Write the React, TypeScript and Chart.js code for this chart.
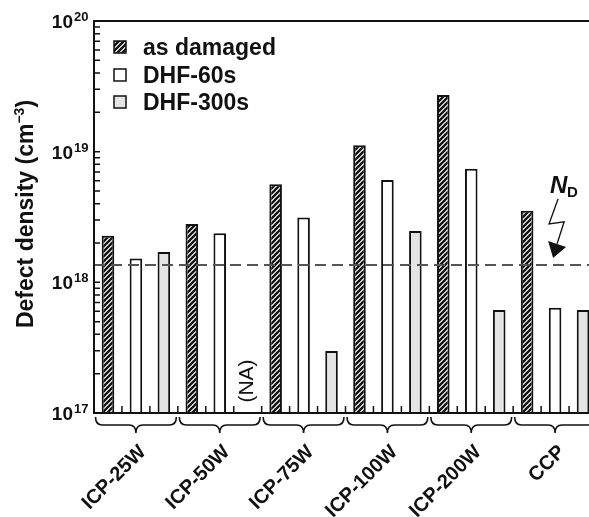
import React, { useEffect, useRef } from "react";
import { Chart, registerables } from "chart.js";

Chart.register(...registerables);

// ---- data ----
const categories = ["ICP-25W", "ICP-50W", "ICP-75W", "ICP-100W", "ICP-200W", "CCP"];
const seriesNames = ["as damaged", "DHF-60s", "DHF-300s"];
const asDamaged = [2.27e18, 2.79e18, 5.62e18, 1.12e19, 2.72e19, 3.53e18];
const dhf60s = [1.52e18, 2.37e18, 3.14e18, 6.06e18, 7.4e18, 6.4e17];
const dhf300s: (number | null)[] = [1.71e18, null, 2.98e17, 2.47e18, 6.14e17, 6.14e17];
const ndLevel = 1.36e18;
const yMin = 1e17;
const yMax = 1e20;
const decadeExponents = [17, 18, 19, 20];
const naIndex = 1;
const naText = "(NA)";
const yTitleMain = "Defect density (cm";
const yTitleSup = "\u22123";
const yTitleEnd = ")";

const FONT = "'Liberation Sans', Arial, Helvetica, sans-serif";

function makeHatch(): CanvasPattern | string {
  const c = document.createElement("canvas");
  const s = 5;
  c.width = s;
  c.height = s;
  const g = c.getContext("2d");
  if (!g) return "#888";
  g.fillStyle = "#ffffff";
  g.fillRect(0, 0, s, s);
  g.strokeStyle = "#111111";
  g.lineWidth = 2.3;
  g.beginPath();
  for (const k of [-s, 0, s]) {
    g.moveTo(k - 1, s + 1);
    g.lineTo(k + s + 1, -1);
  }
  g.stroke();
  const p = g.createPattern(c, "repeat");
  return p || "#888";
}

export default function App() {
  const ref = useRef<HTMLCanvasElement | null>(null);

  useEffect(() => {
    const canvas = ref.current;
    if (!canvas) return;
    const hatch = makeHatch();
    const fills = [hatch, "#ffffff", "#e4e4e4"];

    const overlay = {
      id: "overlay",
      afterDatasetsDraw(chart: any) {
        const { ctx, chartArea: a, scales } = chart;
        const x = scales.x;
        const y = scales.y;
        const slot = (x.getPixelForValue(1) - x.getPixelForValue(0)) / 3;
        ctx.save();

        // ND dashed line
        const yn = y.getPixelForValue(ndLevel);
        ctx.strokeStyle = "#555";
        ctx.lineWidth = 2;
        ctx.setLineDash([11, 6]);
        ctx.beginPath();
        ctx.moveTo(a.left, yn);
        ctx.lineTo(a.right, yn);
        ctx.stroke();
        ctx.setLineDash([]);

        // axes frame
        ctx.strokeStyle = "#111";
        ctx.lineWidth = 2;
        ctx.beginPath();
        ctx.moveTo(a.right, a.top);
        ctx.lineTo(a.left, a.top);
        ctx.lineTo(a.left, a.bottom);
        ctx.lineTo(a.right, a.bottom);
        ctx.stroke();

        // y minor/major ticks (inward)
        ctx.lineWidth = 1.5;
        ctx.beginPath();
        for (let e = decadeExponents[0]; e < decadeExponents[decadeExponents.length - 1]; e++) {
          for (let m = 1; m <= 9; m++) {
            const v = m * Math.pow(10, e);
            const yy = y.getPixelForValue(v);
            ctx.moveTo(a.left, yy);
            ctx.lineTo(a.left + 6, yy);
          }
        }
        ctx.stroke();

        // x ticks (inward) at every slot boundary
        ctx.beginPath();
        for (let i = 0; i < categories.length; i++) {
          const c = x.getPixelForValue(i);
          for (let j = 0; j <= 3; j++) {
            const xx = c - 1.5 * slot + j * slot;
            ctx.moveTo(xx, a.bottom);
            ctx.lineTo(xx, a.bottom - 7);
          }
        }
        ctx.stroke();

        // y tick labels 10^n
        ctx.fillStyle = "#111";
        for (const e of decadeExponents) {
          const yy = y.getPixelForValue(Math.pow(10, e));
          ctx.font = `bold 19px ${FONT}`;
          ctx.textAlign = "right";
          ctx.textBaseline = "alphabetic";
          ctx.fillText("10", 73, yy + 7);
          ctx.font = `bold 13px ${FONT}`;
          ctx.textAlign = "left";
          ctx.fillText(String(e), 74, yy);
        }

        // y title
        ctx.save();
        ctx.translate(33, 214);
        ctx.rotate(-Math.PI / 2);
        ctx.font = `bold 23px ${FONT}`;
        const wMain = ctx.measureText(yTitleMain).width;
        const wEnd = ctx.measureText(yTitleEnd).width;
        ctx.font = `bold 14px ${FONT}`;
        const wSup = ctx.measureText(yTitleSup).width;
        const total = wMain + wSup + wEnd;
        let x0 = -total / 2;
        ctx.textAlign = "left";
        ctx.textBaseline = "alphabetic";
        ctx.font = `bold 23px ${FONT}`;
        ctx.fillText(yTitleMain, x0, 0);
        x0 += wMain;
        ctx.font = `bold 14px ${FONT}`;
        ctx.fillText(yTitleSup, x0, -9);
        x0 += wSup;
        ctx.font = `bold 23px ${FONT}`;
        ctx.fillText(yTitleEnd, x0, 0);
        ctx.restore();

        // braces and category labels
        ctx.strokeStyle = "#111";
        ctx.lineWidth = 1.6;
        for (let i = 0; i < categories.length; i++) {
          const c = x.getPixelForValue(i);
          const x0b = c - 1.5 * slot + 1.5;
          const x1b = c + 1.5 * slot - 1.5;
          const yt = a.bottom + 4;
          const ym = a.bottom + 12;
          const yb = a.bottom + 20;
          ctx.beginPath();
          ctx.moveTo(x0b, yt);
          ctx.quadraticCurveTo(x0b, ym, x0b + 7, ym);
          ctx.lineTo(c - 7, ym);
          ctx.quadraticCurveTo(c, ym, c, yb);
          ctx.quadraticCurveTo(c, ym, c + 7, ym);
          ctx.lineTo(x1b - 7, ym);
          ctx.quadraticCurveTo(x1b, ym, x1b, yt);
          ctx.stroke();

          ctx.save();
          ctx.translate(c + 7, a.bottom + 36);
          ctx.rotate(-Math.PI / 4);
          ctx.font = `bold 20px ${FONT}`;
          ctx.textAlign = "right";
          ctx.textBaseline = "middle";
          ctx.fillText(categories[i], 0, 0);
          ctx.restore();
        }

        // (NA) label
        ctx.save();
        const naX = x.getPixelForValue(naIndex) + slot;
        ctx.translate(naX, a.bottom - 32);
        ctx.rotate(-Math.PI / 2);
        ctx.font = `21px ${FONT}`;
        ctx.textAlign = "center";
        ctx.textBaseline = "middle";
        ctx.fillText(naText, 0, 0);
        ctx.restore();

        // legend
        const baselines = [55, 83, 110];
        for (let k = 0; k < seriesNames.length; k++) {
          const by = baselines[k];
          ctx.fillStyle = fills[k] as any;
          ctx.fillRect(114, by - 14, 12, 12);
          ctx.strokeStyle = "#111";
          ctx.lineWidth = 1.5;
          ctx.strokeRect(114, by - 14, 12, 12);
          ctx.fillStyle = "#111";
          ctx.font = `bold 23px ${FONT}`;
          ctx.textAlign = "left";
          ctx.textBaseline = "alphabetic";
          ctx.fillText(seriesNames[k], 143, by);
        }

        // N_D annotation with zigzag arrow
        const cx = x.getPixelForValue(categories.length - 1);
        ctx.fillStyle = "#111";
        ctx.font = `italic bold 24px ${FONT}`;
        ctx.textAlign = "left";
        ctx.textBaseline = "alphabetic";
        ctx.fillText("N", cx - 5, yn - 72);
        ctx.font = `bold 15px ${FONT}`;
        ctx.fillText("D", cx + 12, yn - 68);
        ctx.strokeStyle = "#111";
        ctx.lineWidth = 1.4;
        ctx.beginPath();
        ctx.moveTo(cx + 3, yn - 66);
        ctx.lineTo(cx - 6, yn - 41);
        ctx.lineTo(cx + 9, yn - 43);
        ctx.lineTo(cx + 2, yn - 21);
        ctx.stroke();
        ctx.beginPath();
        ctx.moveTo(cx - 2, yn - 7);
        ctx.lineTo(cx - 7, yn - 24);
        ctx.lineTo(cx + 11, yn - 18);
        ctx.closePath();
        ctx.fill();

        ctx.restore();
      },
    };

    const chart = new Chart(canvas, {
      type: "bar",
      data: {
        labels: categories,
        datasets: [
          { label: seriesNames[0], data: asDamaged, backgroundColor: hatch as any, borderColor: "#111", borderWidth: 2 },
          { label: seriesNames[1], data: dhf60s, backgroundColor: "#ffffff", borderColor: "#111", borderWidth: 2 },
          { label: seriesNames[2], data: dhf300s, backgroundColor: "#e4e4e4", borderColor: "#111", borderWidth: 2 },
        ],
      },
      options: {
        responsive: false,
        animation: false,
        events: [],
        layout: { padding: { top: 21, left: 0, right: 0, bottom: 0 } },
        datasets: { bar: { categoryPercentage: 1, barPercentage: 0.45 } } as any,
        plugins: { legend: { display: false }, tooltip: { enabled: false } },
        scales: {
          x: {
            type: "category",
            offset: true,
            grid: { display: false, drawTicks: false },
            border: { display: false },
            ticks: { display: false },
            afterFit: (s: any) => {
              s.height = 104;
            },
          },
          y: {
            type: "logarithmic",
            min: yMin,
            max: yMax,
            grid: { display: false, drawTicks: false },
            border: { display: false },
            ticks: { display: false },
            afterFit: (s: any) => {
              s.width = 94;
            },
          },
        },
      },
      plugins: [overlay],
    });
    return () => chart.destroy();
  }, []);

  return (
    <div
      style={{
        position: "absolute",
        left: 0,
        top: 0,
        width: 589,
        height: 517,
        overflow: "hidden",
        background: "#fff",
      }}
    >
      <canvas ref={ref} width={597} height={517} style={{ display: "block" }} />
    </div>
  );
}
